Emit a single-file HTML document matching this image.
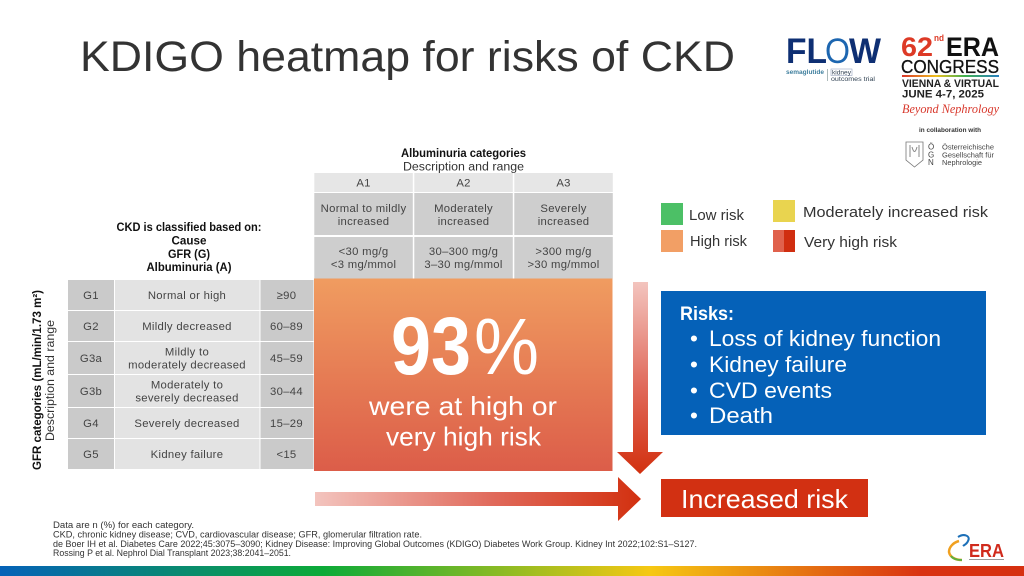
<!DOCTYPE html>
<html lang="en">
<head>
<meta charset="utf-8">
<title>KDIGO heatmap for risks of CKD</title>
<style>
html,body{margin:0;padding:0;background:#fff;width:1024px;height:576px;overflow:hidden}
svg{display:block}
text{font-family:"Liberation Sans",sans-serif}
</style>
</head>
<body>
<svg id="slide" xmlns="http://www.w3.org/2000/svg" width="1024" height="576" viewBox="0 0 1024 576">
<defs>
<linearGradient id="heatGrad" x1="0" y1="0" x2="0" y2="1"><stop offset="0" stop-color="#f09c60"/><stop offset="1" stop-color="#dc5d49"/></linearGradient>
<linearGradient id="downGrad" gradientUnits="userSpaceOnUse" x1="0" y1="282" x2="0" y2="474"><stop offset="0" stop-color="#f3c4be"/><stop offset=".55" stop-color="#e0695a"/><stop offset="1" stop-color="#d2300f"/></linearGradient>
<linearGradient id="rightGrad" gradientUnits="userSpaceOnUse" x1="315" y1="0" x2="641" y2="0"><stop offset="0" stop-color="#f3c4be"/><stop offset=".55" stop-color="#e0695a"/><stop offset="1" stop-color="#d2300f"/></linearGradient>
<linearGradient id="barGrad" x1="0" y1="0" x2="1" y2="0"><stop offset="0" stop-color="#0562b8"/><stop offset=".315" stop-color="#0caa38"/><stop offset=".635" stop-color="#f6c813"/><stop offset=".9" stop-color="#d93212"/><stop offset="1" stop-color="#d63010"/></linearGradient>
<linearGradient id="rainbow" x1="0" y1="0" x2="1" y2="0"><stop offset="0" stop-color="#d8352a"/><stop offset=".35" stop-color="#f0c020"/><stop offset=".65" stop-color="#40b050"/><stop offset="1" stop-color="#2a80c0"/></linearGradient>
</defs>

<text x="80" y="71" font-size="43" fill="#333" textLength="655" lengthAdjust="spacingAndGlyphs">KDIGO heatmap for risks of CKD</text>

<g>
<text x="786" y="63" font-size="35" font-weight="bold" fill="#0e2f73" textLength="41" lengthAdjust="spacingAndGlyphs">FL</text>
<text x="825" y="63" font-size="35" fill="#1d66b0" textLength="25" lengthAdjust="spacingAndGlyphs">O</text>
<text x="849" y="63" font-size="35" font-weight="bold" fill="#0e2f73" textLength="32" lengthAdjust="spacingAndGlyphs">W</text>
<text x="786" y="74" font-size="6" font-weight="bold" fill="#3f7f9e" textLength="38" lengthAdjust="spacingAndGlyphs">semaglutide</text>
<rect x="827" y="69" width=".8" height="12" fill="#9aa"/>
<rect x="831" y="69" width="21" height="6.5" fill="none" stroke="#9aa6c0" stroke-width=".6"/>
<text x="832" y="74.5" font-size="6" fill="#345" textLength="19" lengthAdjust="spacingAndGlyphs">kidney</text>
<text x="831" y="81" font-size="6" fill="#345" textLength="44" lengthAdjust="spacingAndGlyphs">outcomes trial</text>
</g>

<g>
<text x="901" y="56" font-size="27" font-weight="bold" fill="#dd3a26" textLength="32" lengthAdjust="spacingAndGlyphs">62</text>
<text x="934" y="41" font-size="9" font-weight="bold" fill="#dd3a26" textLength="10" lengthAdjust="spacingAndGlyphs">nd</text>
<text x="946" y="56" font-size="27" font-weight="bold" fill="#111" textLength="53" lengthAdjust="spacingAndGlyphs">ERA</text>
<text x="901" y="73" font-size="18" fill="#111" stroke="#111" stroke-width=".3" textLength="98" lengthAdjust="spacingAndGlyphs">CONGRESS</text>
<rect x="902" y="75" width="97" height="2" fill="url(#rainbow)"/>
<text x="902" y="87" font-size="11" font-weight="bold" fill="#222" textLength="97" lengthAdjust="spacingAndGlyphs">VIENNA &amp; VIRTUAL</text>
<text x="902" y="97.5" font-size="11" font-weight="bold" fill="#222" textLength="82" lengthAdjust="spacingAndGlyphs">JUNE 4-7, 2025</text>
<text x="902" y="113" font-size="13" font-style="italic" fill="#d8382c" style="font-family:'Liberation Serif',serif" textLength="97" lengthAdjust="spacingAndGlyphs">Beyond Nephrology</text>
<text x="919" y="132" font-size="6.5" font-weight="bold" fill="#333" textLength="62" lengthAdjust="spacingAndGlyphs">in collaboration with</text>
</g>

<g>
<path d="M906 142H923V160L914.500 167L906 160Z" fill="none" stroke="#777" stroke-width=".8"/>
<path d="M910 145V157M919 145V157M912 147Q914.500 156 917 147" fill="none" stroke="#888" stroke-width="1"/>
<text x="928" y="149.500" font-size="8" fill="#444">Ö</text>
<text x="928" y="157.500" font-size="8" fill="#444">G</text>
<text x="928" y="165" font-size="8" fill="#444">N</text>
<text x="942" y="149.500" font-size="7.500" fill="#444" textLength="52" lengthAdjust="spacingAndGlyphs">Österreichische</text>
<text x="942" y="157.500" font-size="7.500" fill="#444" textLength="52" lengthAdjust="spacingAndGlyphs">Gesellschaft für</text>
<text x="942" y="165" font-size="7.500" fill="#444" textLength="40" lengthAdjust="spacingAndGlyphs">Nephrologie</text>
</g>

<text x="463.500" y="157" font-size="11.500" font-weight="bold" fill="#111" text-anchor="middle" textLength="125" lengthAdjust="spacingAndGlyphs">Albuminuria categories</text>
<text x="463.500" y="170.500" font-size="11.500" fill="#333" text-anchor="middle" textLength="121" lengthAdjust="spacingAndGlyphs">Description and range</text>

<g font-size="11.500" font-weight="bold" fill="#111" text-anchor="middle">
<text x="189" y="231" textLength="145" lengthAdjust="spacingAndGlyphs">CKD is classified based on:</text>
<text x="189" y="244.500" textLength="35" lengthAdjust="spacingAndGlyphs">Cause</text>
<text x="189" y="258" textLength="42" lengthAdjust="spacingAndGlyphs">GFR (G)</text>
<text x="189" y="271" textLength="85" lengthAdjust="spacingAndGlyphs">Albuminuria (A)</text>
</g>

<text transform="translate(41,470) rotate(-90)" font-size="11.500" font-weight="bold" fill="#111" textLength="180" lengthAdjust="spacingAndGlyphs">GFR categories (mL/min/1.73 m²)</text>
<text transform="translate(54,441) rotate(-90)" font-size="11.500" fill="#333" textLength="121" lengthAdjust="spacingAndGlyphs">Description and range</text>

<g id="grid"></g>

<rect x="314" y="278.500" width="298.500" height="192.500" fill="url(#heatGrad)"/>
<text x="391" y="374" font-size="82" font-weight="bold" fill="#fff" textLength="80" lengthAdjust="spacingAndGlyphs">93</text>
<text x="474" y="374" font-size="80" fill="#fff" textLength="65" lengthAdjust="spacingAndGlyphs">%</text>
<text x="463" y="415" font-size="26" fill="#fff" text-anchor="middle" textLength="188" lengthAdjust="spacingAndGlyphs">were at high or</text>
<text x="463.500" y="445.500" font-size="26" fill="#fff" text-anchor="middle" textLength="155" lengthAdjust="spacingAndGlyphs">very high risk</text>

<path d="M633 282H648V452H663L640 474L617 452H633Z" fill="url(#downGrad)"/>
<path d="M315 492H618V477L641 499L618 521V506H315Z" fill="url(#rightGrad)"/>

<g>
<rect x="661" y="203" width="22" height="22" fill="#4cc066"/>
<text x="689" y="220" font-size="14.500" fill="#333" textLength="55" lengthAdjust="spacingAndGlyphs">Low risk</text>
<rect x="661" y="230" width="22" height="22" fill="#f29f65"/>
<text x="690" y="246" font-size="14.500" fill="#333" textLength="57" lengthAdjust="spacingAndGlyphs">High risk</text>
<rect x="773" y="200" width="22" height="22" fill="#e9d44f"/>
<text x="803" y="217" font-size="14.500" fill="#333" textLength="185" lengthAdjust="spacingAndGlyphs">Moderately increased risk</text>
<rect x="773" y="230" width="22" height="22" fill="#e0614c"/>
<rect x="784" y="230" width="11" height="22" fill="#d02e10"/>
<text x="804" y="247" font-size="14.500" fill="#333" textLength="93" lengthAdjust="spacingAndGlyphs">Very high risk</text>
</g>

<g>
<rect x="661" y="291" width="325" height="144" fill="#0561b8"/>
<text x="680" y="320" font-size="19" font-weight="bold" fill="#fff" textLength="54" lengthAdjust="spacingAndGlyphs">Risks:</text>
<g fill="#fff" font-size="22.500">
<text x="690" y="346">•</text><text x="709" y="346" textLength="232" lengthAdjust="spacingAndGlyphs">Loss of kidney function</text>
<text x="690" y="372">•</text><text x="709" y="372" textLength="138" lengthAdjust="spacingAndGlyphs">Kidney failure</text>
<text x="690" y="398">•</text><text x="709" y="398" textLength="123" lengthAdjust="spacingAndGlyphs">CVD events</text>
<text x="690" y="423">•</text><text x="709" y="423" textLength="64" lengthAdjust="spacingAndGlyphs">Death</text>
</g>
</g>

<rect x="661" y="479" width="207" height="38" fill="#d23012"/>
<text x="681" y="508" font-size="26" fill="#fff" textLength="167" lengthAdjust="spacingAndGlyphs">Increased risk</text>

<g font-size="8.800" fill="#333">
<text x="53" y="528" textLength="141" lengthAdjust="spacingAndGlyphs">Data are n (%) for each category.</text>
<text x="53" y="537.500" textLength="369" lengthAdjust="spacingAndGlyphs">CKD, chronic kidney disease; CVD, cardiovascular disease; GFR, glomerular filtration rate.</text>
<text x="53" y="547" textLength="644" lengthAdjust="spacingAndGlyphs">de Boer IH et al. Diabetes Care 2022;45:3075–3090; Kidney Disease: Improving Global Outcomes (KDIGO) Diabetes Work Group. Kidney Int 2022;102:S1–S127.</text>
<text x="53" y="556" textLength="238" lengthAdjust="spacingAndGlyphs">Rossing P et al. Nephrol Dial Transplant 2023;38:2041–2051.</text>
</g>

<g>
<path d="M959 541C952 543 949 548 949 552C950 557 955 560 962 560" fill="none" stroke="#f0a020" stroke-width="2.500"/>
<path d="M951 556C953 559 957 560 962 560" fill="none" stroke="#5cb040" stroke-width="2"/>
<path d="M958 537C964 533 971 536 968 541C967 544 964 545 963 546" fill="none" stroke="#1d70b8" stroke-width="2"/>
<text x="969" y="557" font-size="18" font-weight="bold" fill="#d02a1c" textLength="35" lengthAdjust="spacingAndGlyphs">ERA</text>
<rect x="969" y="559" width="35" height="1" fill="#999"/>
</g>

<rect x="0" y="566" width="1024" height="10" fill="url(#barGrad)"/>
</svg>

<script>
var gfrCodes = ["G1", "G2", "G3a", "G3b", "G4", "G5"];
var gfrDescriptions = [["Normal or high"], ["Mildly decreased"], ["Mildly to", "moderately decreased"], ["Moderately to", "severely decreased"], ["Severely decreased"], ["Kidney failure"]];
var gfrRanges = ["≥90", "60–89", "45–59", "30–44", "15–29", "<15"];
var albCodes = ["A1", "A2", "A3"];
var albDescriptions = [["Normal to mildly", "increased"], ["Moderately", "increased"], ["Severely", "increased"]];
var albRanges = [["<30 mg/g", "<3 mg/mmol"], ["30–300 mg/g", "3–30 mg/mmol"], [">300 mg/g", ">30 mg/mmol"]];

var SVGNS = "http://www.w3.org/2000/svg";
var grid = document.getElementById("grid");

function addCell(name, x, y, w, h, fill) {
  var el = document.createElementNS(SVGNS, "rect");
  el.setAttribute("x", x);
  el.setAttribute("y", y);
  el.setAttribute("width", w);
  el.setAttribute("height", h);
  el.setAttribute("fill", fill);
  
  
  grid.appendChild(el);
}

function addLabel(name, lines, cx, cy) {
  var lineGap = 12.7;
  for (var i = 0; i < lines.length; i++) {
    var el = document.createElementNS(SVGNS, "text");
    el.setAttribute("x", cx);
    el.setAttribute("y", cy + 4 + (i - (lines.length - 1) / 2) * lineGap);
    el.setAttribute("text-anchor", "middle");
    el.setAttribute("font-size", "11.3");
    el.setAttribute("letter-spacing", "0.3");
    el.setAttribute("fill", "#444");
    el.textContent = lines[i];
    
    
    grid.appendChild(el);
  }
}

/* row band: two-line descriptions need a slightly taller row */
function rowHeight(i) { return gfrDescriptions[i].length > 1 ? 33 : 31; }
function rowTop(i) {
  var y = 280;
  for (var k = 0; k < i; k++) { y += rowHeight(k); }
  return y;
}
function colLeft(j) { return 314.3 + j * 100; }

gfrCodes.forEach(function (code, i) {
  var y = rowTop(i), h = rowHeight(i) - 1, mid = y + h / 2;
  addCell("gfr-code-cell-" + code, 68, y, 46, h, "#cacaca");
  addCell("gfr-description-cell-" + code, 115, y, 144.5, h, "#e3e3e3");
  addCell("gfr-range-cell-" + code, 260.5, y, 53, h, "#cacaca");
  addLabel("gfr-code-" + code, [code], 91, mid);
  addLabel("gfr-description-" + code, gfrDescriptions[i], 187, mid);
  addLabel("gfr-range-" + code, [gfrRanges[i]], 286.5, mid);
});

albCodes.forEach(function (code, j) {
  var x = colLeft(j), w = 98.5, cx = x + w / 2;
  addCell("albuminuria-code-cell-" + code, x, 173, w, 19, "#e6e6e6");
  addCell("albuminuria-description-cell-" + code, x, 193, w, 42, "#cecece");
  addCell("albuminuria-range-cell-" + code, x, 237, w, 41.5, "#cecece");
  addLabel("albuminuria-code-" + code, [code], cx, 182.5);
  addLabel("albuminuria-description-" + code, albDescriptions[j], cx, 214.5);
  addLabel("albuminuria-range-" + code, albRanges[j], cx, 257.5);
});
</script>
</body>
</html>
